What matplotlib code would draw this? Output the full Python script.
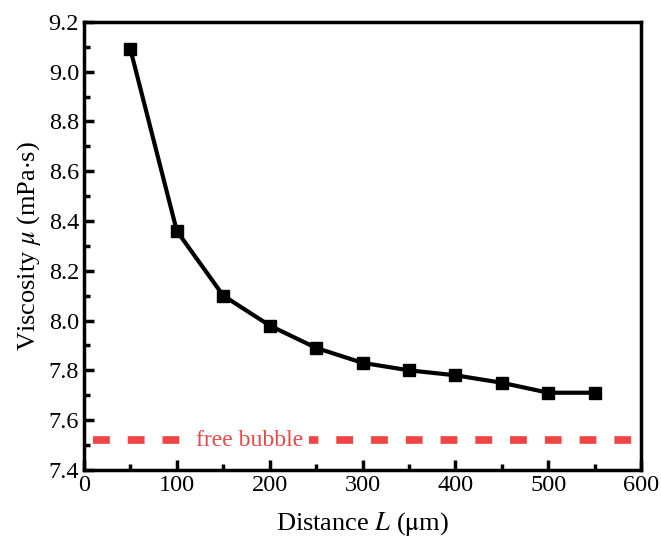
import matplotlib
matplotlib.use('Agg')
import matplotlib.pyplot as plt
from matplotlib.ticker import MultipleLocator

plt.rcParams['font.family'] = ['Liberation Serif', 'DejaVu Serif']
plt.rcParams['mathtext.fontset'] = 'stix'

# 数据
distance = [50, 100, 150, 200, 250, 300, 350, 400, 450, 500, 550]
viscosity = [9.09, 8.36, 8.10, 7.98, 7.89, 7.83, 7.80, 7.78, 7.75, 7.71, 7.71]
free_bubble = 7.52

fig = plt.figure(figsize=(6.61, 5.47), dpi=100)
ax = fig.add_axes([0.127, 0.141, 0.843, 0.819])

ax.plot(distance, viscosity, color='black', linewidth=3, marker='s', markersize=9, zorder=3)

# 自由气泡参考线
ax.plot([10, 590], [free_bubble, free_bubble], color='#F04444', linewidth=5.5,
        linestyle=(0, (2.2, 2.35)), solid_capstyle='butt', dash_capstyle='butt', zorder=2)
ax.text(178, free_bubble, 'free bubble', color='#F04444', fontsize=17,
        ha='center', va='center', zorder=4,
        bbox=dict(facecolor='white', edgecolor='none', pad=4))

ax.set_xlim(0, 600)
ax.set_ylim(7.4, 9.2)
ax.xaxis.set_major_locator(MultipleLocator(100))
ax.xaxis.set_minor_locator(MultipleLocator(50))
ax.yaxis.set_major_locator(MultipleLocator(0.2))
ax.yaxis.set_minor_locator(MultipleLocator(0.1))
ax.yaxis.set_major_formatter(plt.FormatStrFormatter('%.1f'))

ax.tick_params(which='both', direction='in', labelsize=17.5, width=2.5)
ax.tick_params(which='major', length=7)
ax.tick_params(which='minor', length=4)
for s in ax.spines.values():
    s.set_linewidth(2.5)

ax.set_xlabel(r'Distance $L$ ($\mathrm{\mu}$m)', fontsize=19, labelpad=10)
ax.set_ylabel(r'Viscosity $\mu$ (mPa$\cdot$s)', fontsize=19, labelpad=4)

fig.savefig('out.png', dpi=100)
